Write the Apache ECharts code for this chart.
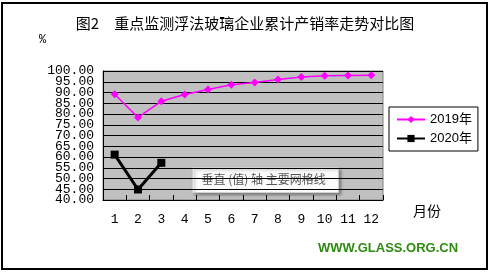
<!DOCTYPE html>
<html>
<head>
    <meta charset="UTF-8">
    <script src="https://cdn.jsdelivr.net/npm/echarts@6/dist/echarts.min.js"></script>
    <style>
        html, body { margin: 0; padding: 0; background: #fff; }
    </style>
</head>
<body>
<div id="main" style="width: 490px; height: 272px;"></div>
<script type="text/javascript">
    var months = ['1', '2', '3', '4', '5', '6', '7', '8', '9', '10', '11', '12'];
    var rate2019 = [89.2, 78.4, 85.9, 89.1, 91.4, 93.6, 94.6, 96.0, 97.2, 97.8, 97.9, 98.0];
    var rate2020 = [61.1, 44.9, 57.3];
    var yTicks = [40, 100, 5]; // min, max, step

    var monoFont = '"Liberation Mono", "DejaVu Sans Mono", monospace';
    var cjkFont = '"Noto Sans CJK SC", "Noto Sans", sans-serif';

    // labels are crowded (10.8px apart), so split them over two stacked axes
    // to stop echarts from dropping the ones next to min / max
    function yAxisCfg(odd) {
        return {
            type: 'value',
            position: 'left',
            min: yTicks[0],
            max: yTicks[1],
            interval: yTicks[2],
            axisLine: { show: !odd, lineStyle: { color: '#000', width: 1 } },
            axisTick: { show: false },
            axisLabel: {
                margin: 9,
                fontFamily: monoFont,
                fontSize: 13,
                color: '#000',
                showMinLabel: true,
                showMaxLabel: true,
                formatter: function (v) {
                    var isOdd = Math.round(v / yTicks[2]) % 2 === 1;
                    return isOdd === odd ? v.toFixed(2) : '';
                }
            },
            splitLine: { show: !odd, lineStyle: { color: '#000', width: 1 } }
        };
    }

    function initChart() {
        var myChart = echarts.init(document.getElementById('main'));
        var option = {
            animation: false,
            title: {
                text: '图2　重点监测浮法玻璃企业累计产销率走势对比图',
                left: 'center',
                top: 11,
                textStyle: {
                    fontFamily: cjkFont,
                    fontSize: 15,
                    fontWeight: 'normal',
                    color: '#000'
                }
            },
            grid: {
                left: 103,
                top: 71,
                right: 107,
                bottom: 72,
                show: true,
                backgroundColor: '#c0c0c0',
                borderColor: '#808080',
                borderWidth: 1
            },
            legend: {
                orient: 'vertical',
                left: 389,
                top: 107,
                width: 92,
                padding: [6, 6, 6, 7],
                itemGap: 6,
                itemWidth: 28,
                itemHeight: 9,
                borderColor: '#000',
                borderWidth: 1,
                textStyle: {
                    fontFamily: '"Liberation Sans", Arial, ' + cjkFont,
                    fontSize: 13,
                    color: '#000'
                },
                data: ['2019年', '2020年']
            },
            xAxis: {
                type: 'category',
                data: months,
                boundaryGap: true,
                name: '月份',
                nameLocation: 'end',
                nameGap: 30,
                nameTextStyle: {
                    fontFamily: cjkFont,
                    fontSize: 14,
                    color: '#000',
                    verticalAlign: 'top',
                    padding: [4, 0, 0, 0]
                },
                axisLine: { lineStyle: { color: '#000', width: 1 } },
                axisTick: { show: true, inside: true, length: 5, lineStyle: { color: '#000' } },
                axisLabel: {
                    margin: 13,
                    fontFamily: monoFont,
                    fontSize: 13,
                    color: '#000'
                },
                splitLine: { show: false }
            },
            yAxis: [yAxisCfg(false), yAxisCfg(true)],
            graphic: [
                {
                    type: 'rect',
                    shape: { x: 2, y: 3, width: 485, height: 266 },
                    style: { fill: 'none', stroke: '#000', lineWidth: 2 },
                    silent: true
                },
                {
                    type: 'text',
                    left: 39,
                    top: 34,
                    style: {
                        text: '%',
                        fontFamily: monoFont,
                        fontSize: 12,
                        fill: '#000'
                    }
                },
                {
                    type: 'text',
                    left: 318,
                    top: 242,
                    style: {
                        text: 'WWW.GLASS.ORG.CN',
                        fontFamily: '"Liberation Sans", Arial, sans-serif',
                        fontSize: 13,
                        fontWeight: 'bold',
                        fill: '#2e8b10'
                    }
                },
                {
                    type: 'group',
                    left: 192,
                    top: 167,
                    z: 100,
                    children: [
                        {
                            type: 'rect',
                            shape: { x: 0, y: 0, width: 146, height: 25 },
                            style: {
                                fill: '#fbfbfb',
                                stroke: '#d0d0d0',
                                lineWidth: 1,
                                shadowBlur: 3,
                                shadowOffsetX: 2,
                                shadowOffsetY: 2,
                                shadowColor: 'rgba(0,0,0,0.35)'
                            }
                        },
                        {
                            type: 'text',
                            x: 9,
                            y: 6,
                            style: {
                                text: '垂直 (值) 轴 主要网格线',
                                fontFamily: cjkFont,
                                fontSize: 12,
                                fill: '#555'
                            }
                        }
                    ]
                }
            ],
            series: [
                {
                    name: '2019年',
                    type: 'line',
                    data: rate2019,
                    symbol: 'diamond',
                    symbolSize: 8,
                    lineStyle: { color: '#ff00ff', width: 1.5 },
                    itemStyle: { color: '#ff00ff' }
                },
                {
                    name: '2020年',
                    type: 'line',
                    data: rate2020,
                    symbol: 'rect',
                    symbolSize: 8,
                    lineStyle: { color: '#000', width: 3 },
                    itemStyle: { color: '#000' }
                }
            ]
        };
        myChart.setOption(option);
    }

    initChart();
</script>
</body>
</html>
